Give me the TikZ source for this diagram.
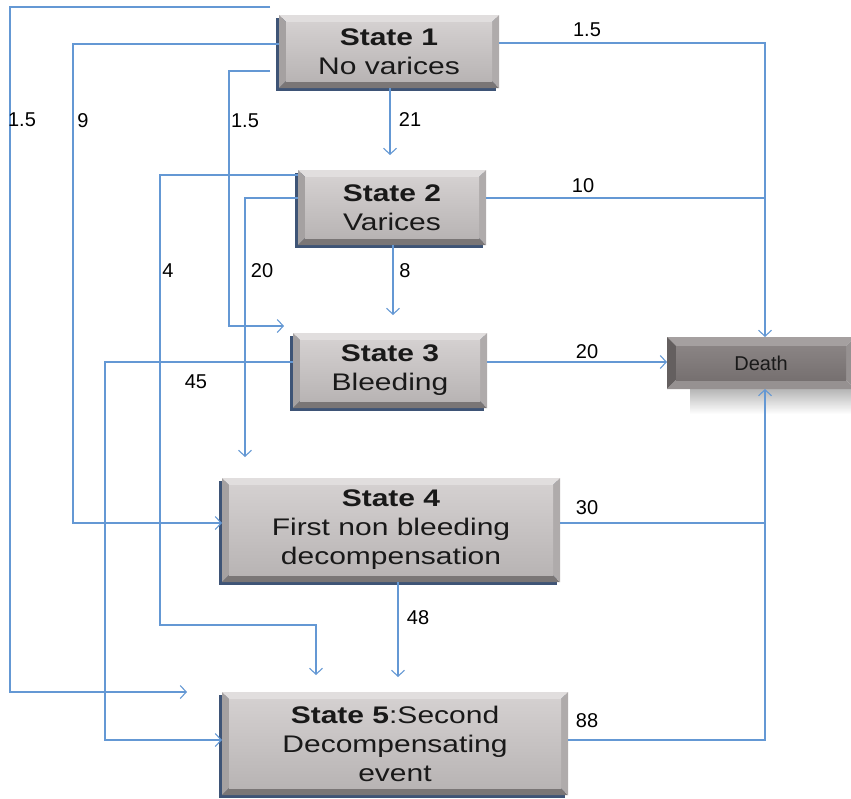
\documentclass[tikz,border=0pt]{standalone}
\usepackage{fontspec}
\setmainfont{Liberation Sans}
\newfontfamily\boxfont[FakeStretch=1.25]{Liberation Sans}
\usetikzlibrary{arrows.meta,calc,backgrounds}
\definecolor{lnk}{RGB}{100,152,212}
\definecolor{sfT}{RGB}{212,208,208}
\definecolor{sfB}{RGB}{184,180,180}
\definecolor{sbT}{RGB}{225,222,222}
\definecolor{sbL}{RGB}{165,161,161}
\definecolor{sbB}{RGB}{122,118,118}
\definecolor{sbR}{RGB}{175,171,171}
\definecolor{dfT}{RGB}{138,132,132}
\definecolor{dfB}{RGB}{118,112,112}
\definecolor{dbT}{RGB}{165,160,160}
\definecolor{dbL}{RGB}{100,95,95}
\definecolor{dbB}{RGB}{150,145,145}
\definecolor{dbR}{RGB}{150,145,145}
\definecolor{shblue}{RGB}{62,84,118}
\definecolor{txt}{RGB}{25,25,25}
\newcommand\bevelpaint[7]{%
  \coordinate (pa) at (path picture bounding box.south west);
  \coordinate (pb) at (path picture bounding box.north east);
  \fill[#3] (pa|-pb) -- (pb) -- ($(pb)+(-#7,-#7)$) -- ($(pa|-pb)+(#7,-#7)$) -- cycle;
  \fill[#4] (pa) -- (pa|-pb) -- ($(pa|-pb)+(#7,-#7)$) -- ($(pa)+(#7,#7)$) -- cycle;
  \fill[#5] (pa) -- (pb|-pa) -- ($(pb|-pa)+(-#7,#7)$) -- ($(pa)+(#7,#7)$) -- cycle;
  \fill[#6] (pb|-pa) -- (pb) -- ($(pb)+(-#7,-#7)$) -- ($(pb|-pa)+(-#7,#7)$) -- cycle;
  \shade[top color=#1, bottom color=#2] ($(pa)+(#7,#7)$) rectangle ($(pb)+(-#7,-#7)$);
}
\newcommand\boxshadow[1]{%
  \fill[shblue] ($(#1.south west)+(-3pt,-3pt)$) rectangle ($(#1.north east)+(-3pt,-3pt)$);}
\tikzset{
  statebox/.style={inner sep=0pt, outer sep=0pt, align=center, text=txt,
    font=\boxfont\fontsize{24}{29}\selectfont,
    path picture={\bevelpaint{sfT}{sfB}{sbT}{sbL}{sbB}{sbR}{7pt}}},
  deathbox/.style={inner sep=0pt, outer sep=0pt, text=txt,
    font=\fontsize{20}{24}\selectfont,
    path picture={\bevelpaint{dfT}{dfB}{dbT}{dbL}{dbB}{dbR}{9pt}}},
  conn/.style={draw=lnk, line width=1.1pt},
  arr/.style={conn, -{Straight Barb[length=6pt,width=13pt,line width=1.1pt]}},
  lbl/.style={inner sep=0pt, text=black, font=\fontsize{20}{24}\selectfont}
}
\begin{document}
\begin{tikzpicture}[x=1pt,y=-1pt]
\useasboundingbox (0,0) rectangle (851,798);
% death shadow
\shade[top color=gray!75, bottom color=white, opacity=0.8] (690,388) rectangle (851,414);
% nodes
\node[statebox, minimum width=220pt, minimum height=73pt] (s1) at (389,51.5) {\textbf{State 1}\\No varices};
\node[statebox, minimum width=188pt, minimum height=75pt] (s2) at (392,207.5) {\textbf{State 2}\\Varices};
\node[statebox, minimum width=194pt, minimum height=75pt] (s3) at (390,370.5) {\textbf{State 3}\\Bleeding};
\node[statebox, minimum width=338pt, minimum height=104pt] (s4) at (391,530) {\textbf{State 4}\\First non bleeding\\decompensation};
\node[statebox, minimum width=346pt, minimum height=103pt] (s5) at (395,743.5) {\textbf{State 5}:Second\\Decompensating\\event};
\node[deathbox, minimum width=188pt, minimum height=52pt] (d) at (761,363) {Death};
\begin{pgfonlayer}{background}
\boxshadow{s1}\boxshadow{s2}\boxshadow{s3}\boxshadow{s4}\boxshadow{s5}
\end{pgfonlayer}
% free coordinates
\coordinate (a1s) at (270,7);
\coordinate (a1e) at (187,692);
\coordinate (a3s) at (270,71);
\coordinate (a3e) at (284,326);
% connectors
\draw[arr] (a1s) -- (10,7) -- (10,692) -- (a1e);
\draw[arr] (s1.west |- 0,44) -- (73,44) -- (73,523) -- (s4.west |- 0,523);
\draw[arr] (a3s) -- (229,71) -- (229,326) -- (a3e);
\draw[arr] (s1.south -| 390,0) -- (390,155);
\draw[arr] (s1.east |- 0,43) -- (765,43) -- (d.north -| 765,0);
\draw[arr] (s2.west |- 0,175) -- (160,175) -- (160,625) -- (316,625) -- (316,675);
\draw[arr] (s2.west |- 0,198) -- (245,198) -- (245,457);
\draw[arr] (s2.south -| 393,0) -- (393,315);
\draw[conn] (s2.east |- 0,198) -- (765,198);
\draw[arr] (s3.west |- 0,362) -- (105,362) -- (105,740) -- (s5.west |- 0,740);
\draw[arr] (s3.east |- 0,362) -- (d.west |- 0,362);
\draw[arr] (s4.east |- 0,523) -- (765,523) -- (d.south -| 765,0);
\draw[arr] (s4.south -| 398,0) -- (398,677);
\draw[conn] (s5.east |- 0,740) -- (765,740) -- (765,523);
% labels
\node[lbl] at (22,120) {1.5};
\node[lbl] at (83,121) {9};
\node[lbl] at (245,121) {1.5};
\node[lbl] at (410,120) {21};
\node[lbl] at (587,30) {1.5};
\node[lbl] at (168,271) {4};
\node[lbl] at (262,271) {20};
\node[lbl] at (405,271) {8};
\node[lbl] at (583,186) {10};
\node[lbl] at (196,382) {45};
\node[lbl] at (587,352) {20};
\node[lbl] at (587,508) {30};
\node[lbl] at (418,618) {48};
\node[lbl] at (587,721) {88};
\end{tikzpicture}
\end{document}
